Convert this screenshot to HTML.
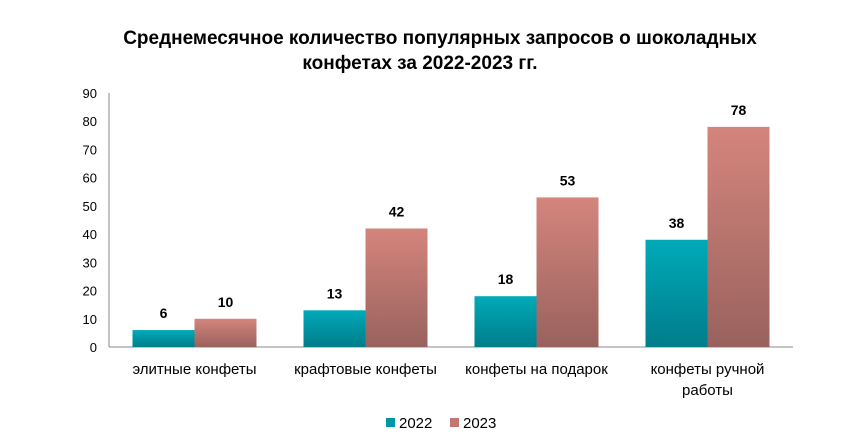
<!DOCTYPE html>
<html><head><meta charset="utf-8"><style>
body{margin:0;background:#fff;width:841px;height:441px;overflow:hidden}
svg text{font-family:"Liberation Sans",Arial,sans-serif}
</style></head><body>
<svg id="c" width="841" height="441">
<defs>
<linearGradient id="gT" x1="0" y1="0" x2="0" y2="1"><stop offset="0" stop-color="#00aab9"/><stop offset="1" stop-color="#007d8a"/></linearGradient>
<linearGradient id="gR" x1="0" y1="0" x2="0" y2="1"><stop offset="0" stop-color="#d4857c"/><stop offset="1" stop-color="#99625e"/></linearGradient>
</defs>
<text x="440" y="44" text-anchor="middle" font-size="19" font-weight="bold" fill="#000">Среднемесячное количество популярных запросов о шоколадных</text>
<text x="420" y="69" text-anchor="middle" font-size="19" font-weight="bold" fill="#000">конфетах за 2022-2023 гг.</text>
</svg>
<script>
const categories=[["элитные конфеты"],["крафтовые конфеты"],["конфеты на подарок"],["конфеты ручной","работы"]];
const values2022=[6,13,18,38];
const values2023=[10,42,53,78];
const yTicks=[0,10,20,30,40,50,60,70,80,90];
const seriesNames=["2022","2023"];
const svg=document.getElementById('c');
const NS='http://www.w3.org/2000/svg';
const x0=109,x1=793,y0=347,y90=93,yMax=90;
const y=v=>y0-(v/yMax)*(y0-y90);
const cw=(x1-x0)/categories.length;
const cx=i=>x0+cw*(i+0.5);
const bw=62;
function mk(t,a){const e=document.createElementNS(NS,t);for(const k in a)e.setAttribute(k,a[k]);svg.appendChild(e);return e;}
yTicks.forEach(v=>{
 const t=mk('text',{x:97,y:y(v)+5,'text-anchor':'end','font-size':13,fill:'#000'});
 
 
 t.textContent=v;
});
const ax=mk('line',{x1:x0,y1:y90,x2:x0,y2:y0,stroke:'#888','stroke-width':1});


const bx=mk('line',{x1:x0,y1:y0,x2:x1,y2:y0,stroke:'#888','stroke-width':1});


[values2022,values2023].forEach((vals,s)=>{
 vals.forEach((v,i)=>{
  const bxp=cx(i)-bw+s*bw;
  const r=mk('rect',{x:bxp,y:y(v),width:bw,height:y0-y(v),fill:s?'url(#gR)':'url(#gT)'});
  
  
  const t=mk('text',{x:bxp+bw/2,y:y(v)-12,'text-anchor':'middle','font-size':14,'font-weight':'bold',fill:'#000'});
  
  
  t.textContent=v;
 });
});
categories.forEach((c,i)=>{
 c.forEach((ln,j)=>{
  const t=mk('text',{x:cx(i),y:374+j*21,'text-anchor':'middle','font-size':15,fill:'#000'});
  
  
  t.textContent=ln;
 });
});
seriesNames.forEach((n,s)=>{
 const lx=386+s*64;
 const r=mk('rect',{x:lx,y:418,width:9,height:9,fill:s?'#c07870':'#0096a4'});
 
 
 const t=mk('text',{x:lx+13,y:428,'font-size':15,fill:'#000'});
 
 
 t.textContent=n;
});
</script>
</body></html>
